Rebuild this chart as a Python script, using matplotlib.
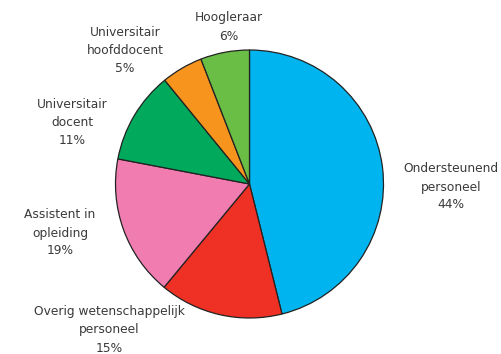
import matplotlib
matplotlib.use("Agg")
import matplotlib.pyplot as plt

# personeel per categorie (wedge sizes, labels as printed)
categories = ["Ondersteunend\npersoneel", "Overig wetenschappelijk\npersoneel",
              "Assistent in\nopleiding", "Universitair\ndocent",
              "Universitair\nhoofddocent", "Hoogleraar"]
shares = [46.1, 14.9, 17.0, 11.1, 5.0, 5.9]
pct_labels = [44, 15, 19, 11, 5, 6]
colors = ["#00b5ef", "#ee3124", "#f07cb0", "#00a95c", "#f7941d", "#6abd45"]

# label anchor points in pixels (x, y from top)
label_pos = [(451, 187), (109, 330), (60, 233), (72, 122), (125, 51), (229, 27)]

W, H = 502, 354
fig = plt.figure(figsize=(W / 100, H / 100), dpi=100)
ax = fig.add_axes([0, 0, 1, 1])

ax.pie(shares, colors=colors, startangle=90, counterclock=False,
       center=(249.5, H - 184), radius=134,
       wedgeprops=dict(edgecolor="#222222", linewidth=0.9))

for cat, p, (x, y) in zip(categories, pct_labels, label_pos):
    ax.text(x, H - y, f"{cat}\n{p}%", ha="center", va="center",
            fontsize=8.8, color="#3a3a3a", linespacing=1.5)

ax.set_xlim(0, W)
ax.set_ylim(0, H)
ax.set_aspect("equal")
ax.axis("off")

fig.savefig("out.png", dpi=100)
